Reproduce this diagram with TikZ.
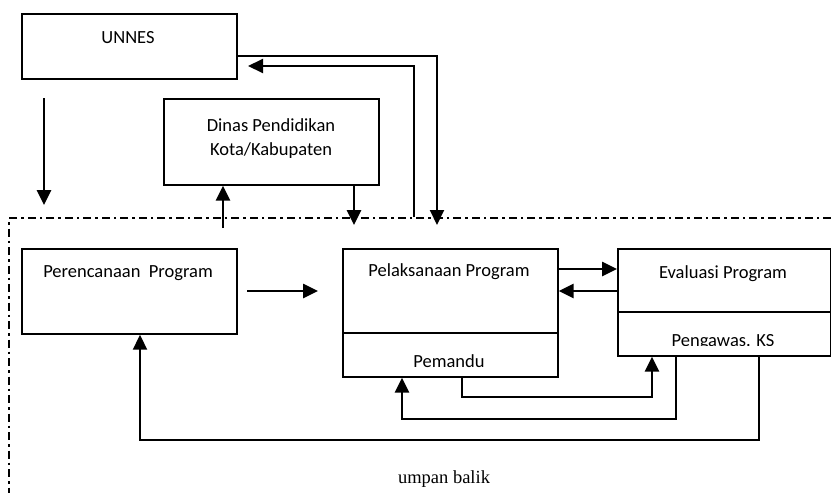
\documentclass[tikz,border=0pt]{standalone}
\usepackage{fontspec}
\setmainfont{Carlito}
\newfontfamily\serifrm{Liberation Serif}
\usetikzlibrary{arrows.meta}
\tikzset{
  box/.style={draw, line width=1.7pt, anchor=north west, inner sep=0pt},
  lbl/.style={anchor=base, inner sep=0pt, font=\fontsize{18.5}{22}\selectfont},
  arr/.style={line width=2.6pt, -{Triangle[length=15pt,width=14pt]}},
  thinarr/.style={line width=2pt, -{Triangle[length=15pt,width=14pt]}},
  bound/.style={line width=1.8pt, dash pattern=on 8pt off 4pt on 2.5pt off 4pt}
}
\begin{document}
\begin{tikzpicture}[x=1pt,y=-1pt]
\useasboundingbox (0,0) rectangle (831,493);
% boxes
\node[box, minimum width=215pt, minimum height=65pt] (unnes) at (21,13) {};
\node[box, minimum width=215pt, minimum height=86pt] (dinas) at (163,98) {};
\node[box, minimum width=215pt, minimum height=85pt] (renc) at (21,248) {};
\node[box, minimum width=215pt, minimum height=128pt] (pel) at (342,248) {};
\node[box, minimum width=213pt, minimum height=107pt] (eval) at (617,248) {};
\draw[line width=1.7pt] (pel.west |- 0,333) -- (pel.east |- 0,333);
\draw[line width=1.7pt] (eval.west |- 0,312) -- (eval.east |- 0,312);
% labels
\node[lbl] (tunnes) at (128,43) {UNNES};
\node[lbl] (tdinas1) at (271,131) {Dinas Pendidikan};
\node[lbl] (tdinas2) at (271,155) {Kota/Kabupaten};
\node[lbl] (trenc) at (128,277) {Perencanaan\ \ Program};
\node[lbl] (tpel) at (449,276) {Pelaksanaan Program};
\node[lbl] (tpem) at (449,367) {Pemandu};
\node[lbl] (teval) at (723,278) {Evaluasi Program};
\begin{scope}
\clip (617,313) rectangle (830,345);
\node[lbl] (tpeng) at (723,346) {Pengawas. KS};
\end{scope}
\node[lbl, font=\fontsize{18.5}{22}\serifrm] (tumpan) at (444,483) {umpan balik};
% boundary
\draw[bound] (831,218) -- (9,218) -- (9,493);
% coordinates
\coordinate (u1) at (44,98);
\coordinate (u2) at (44,205);
\coordinate (d1) at (223,228);
\coordinate (d2) at (354,225);
\coordinate (r1) at (414,217);
\coordinate (r2) at (437,225);
\coordinate (rt) at (248,66);
\coordinate (p1) at (247,291);
\coordinate (p2) at (318,291);
% connectors
\draw[arr] (u1) -- (u2);
\draw[arr] (d1) -- (dinas.south -| d1);
\draw[arr] (dinas.south -| d2) -- (d2);
\draw[thinarr] (r1) -- (r1 |- rt) -- (rt);
\draw[thinarr] (unnes.east |- 0,56) -- (r2 |- 0,56) -- (r2);
\draw[arr] (p1) -- (p2);
\draw[arr] (pel.east |- 0,269) -- (eval.west |- 0,269);
\draw[arr] (eval.west |- 0,291) -- (pel.east |- 0,291);
\draw[arr] (pel.south -| 462,0) -- (462,397) -- (652,397) -- (eval.south -| 652,0);
\draw[arr] (eval.south -| 676,0) -- (676,419) -- (402,419) -- (pel.south -| 402,0);
\draw[thinarr] (eval.south -| 759,0) -- (759,440) -- (140,440) -- (renc.south -| 140,0);
\end{tikzpicture}
\end{document}
